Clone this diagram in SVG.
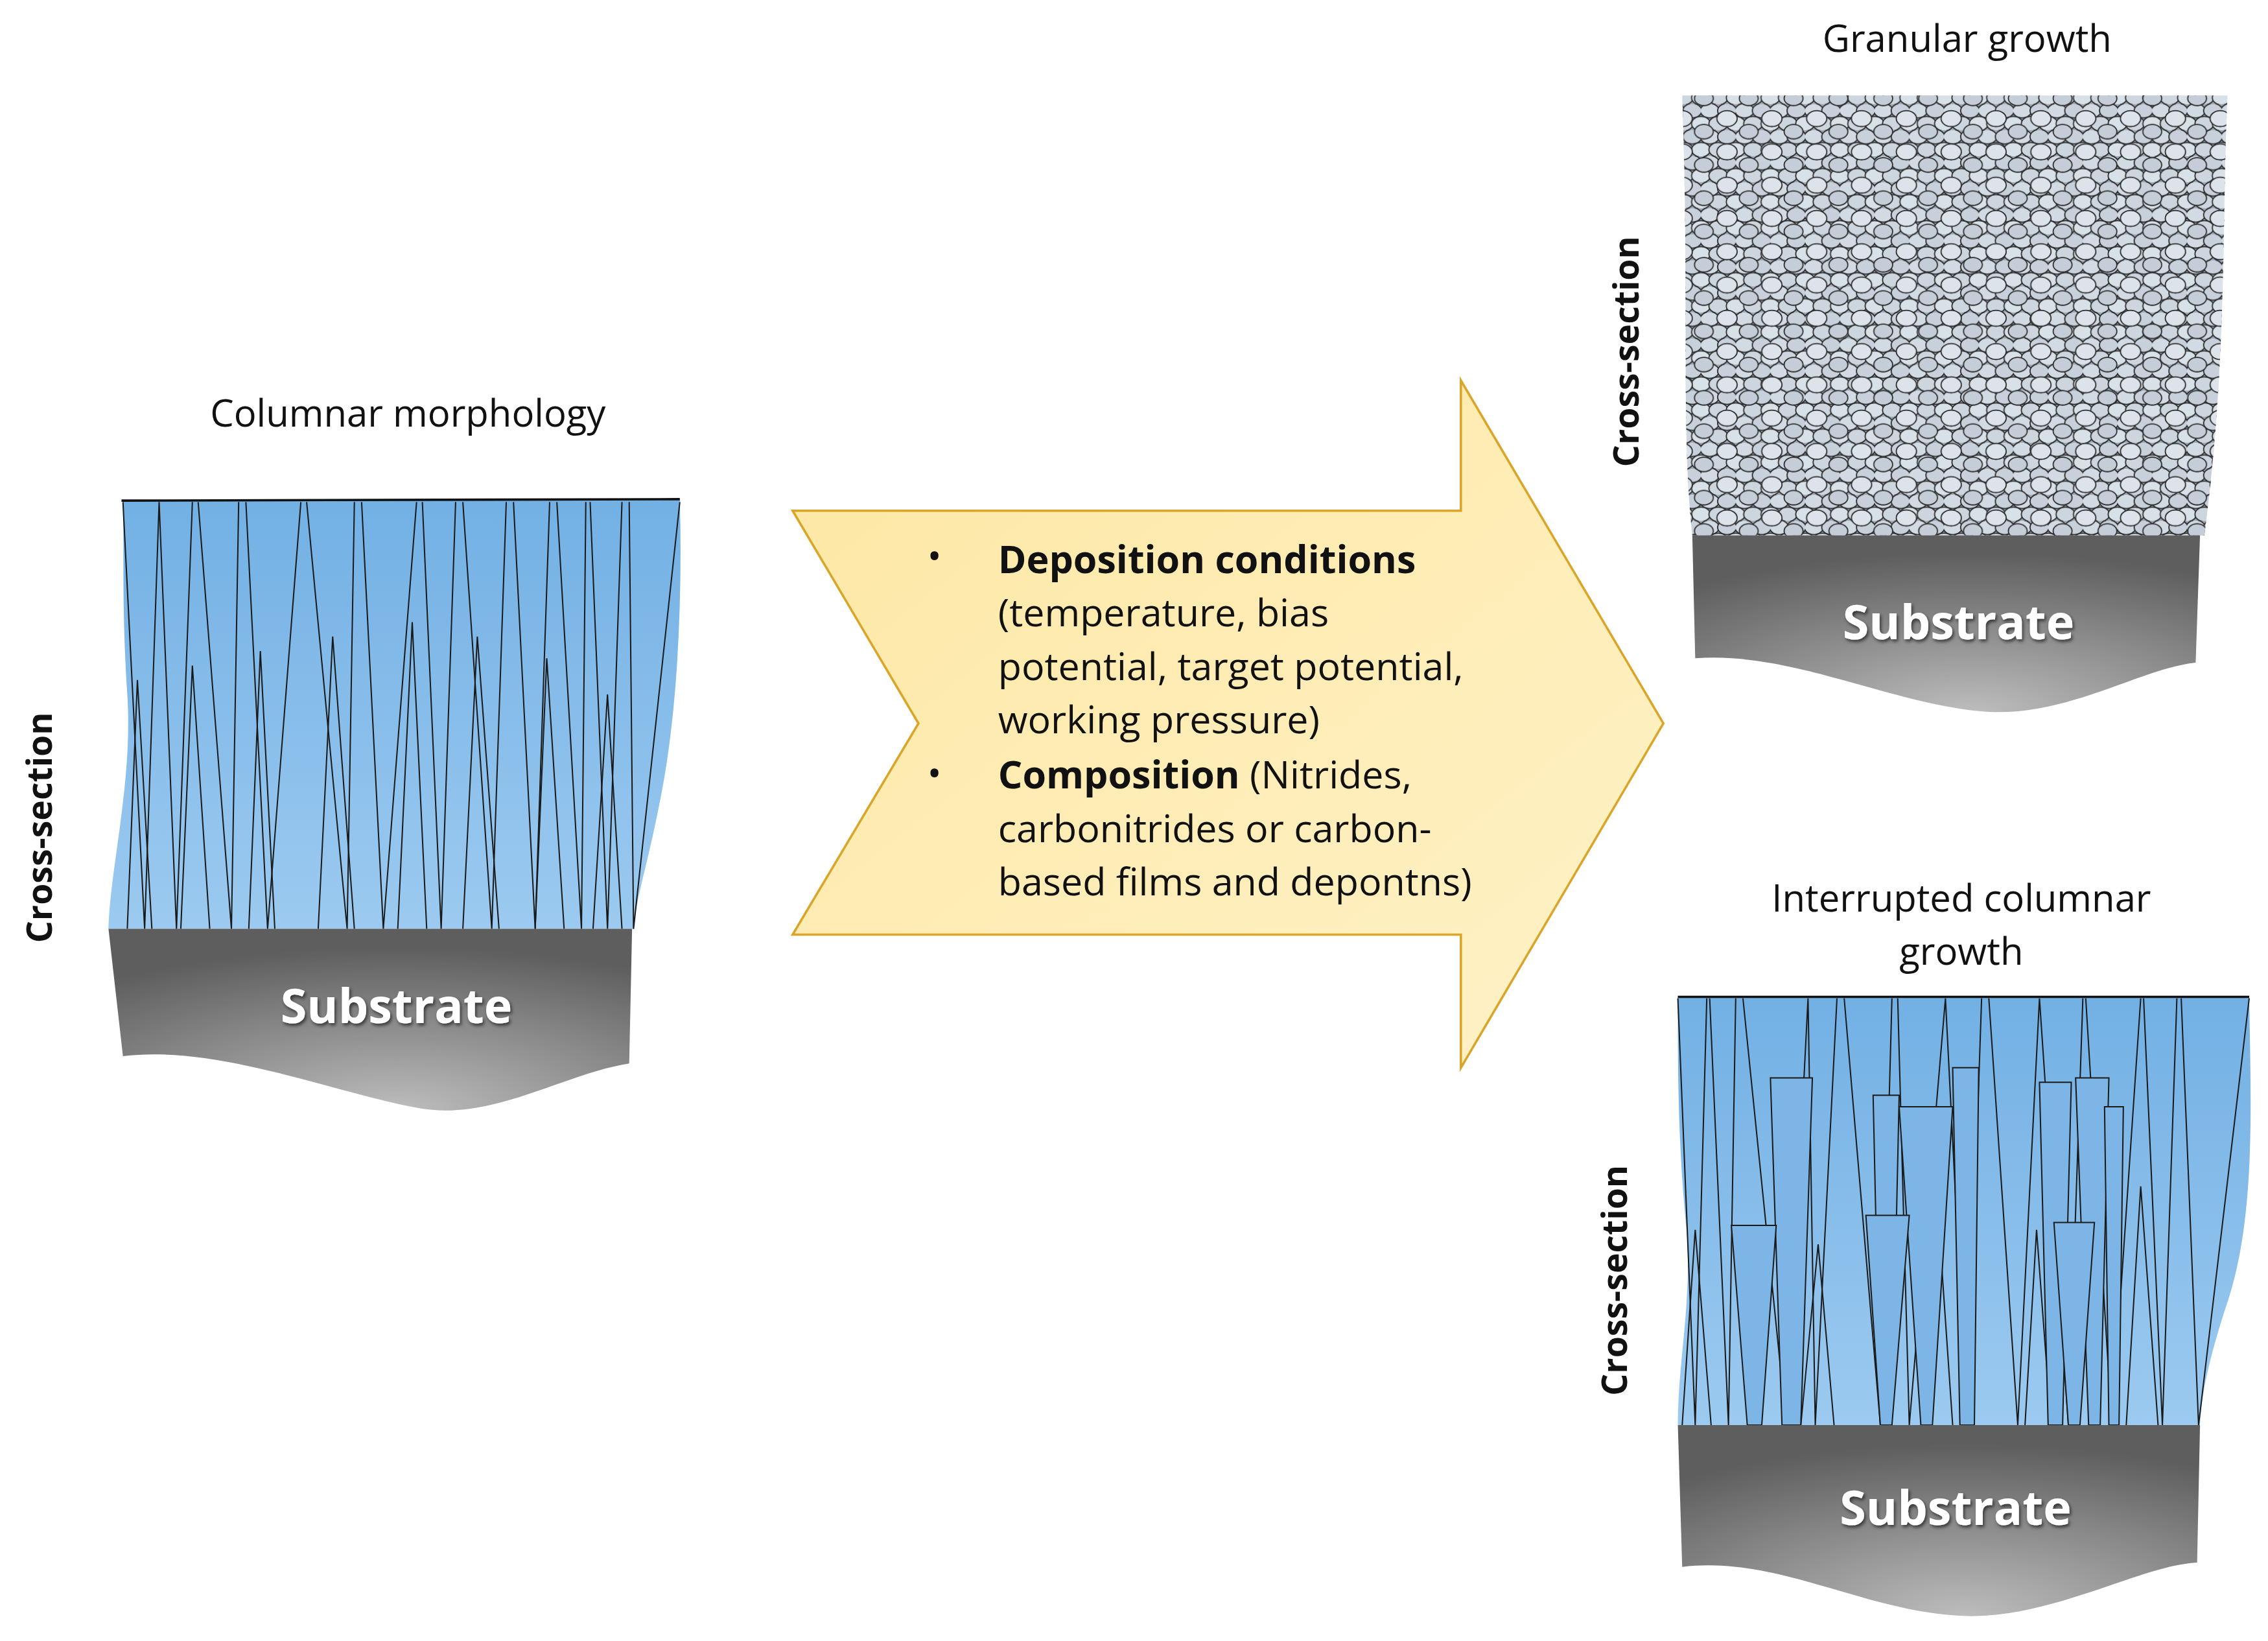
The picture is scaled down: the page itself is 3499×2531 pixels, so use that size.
<svg xmlns="http://www.w3.org/2000/svg" width="3499" height="2531" viewBox="0 0 3499 2531">
<defs>
<style>
.t{font-family:"Open Sans","Liberation Sans",sans-serif;fill:#111}
.cs{font-family:"Open Sans","Liberation Sans",sans-serif;font-weight:bold;font-size:24px;fill:#111}
.sub{font-family:"Open Sans","Liberation Sans",sans-serif;font-weight:bold;font-size:33px;fill:#fff;filter:url(#sh)}
.col{fill:none;stroke:#1a1a1a;stroke-width:0.9}
.trap{fill:#7db6e6;stroke:#1a1a1a;stroke-width:0.9}
.g{stroke:#2a2a2a;stroke-width:0.8}
</style>
<linearGradient id="blue" x1="0" y1="0" x2="0" y2="1"><stop offset="0" stop-color="#72b0e4"/><stop offset="1" stop-color="#9ccaf0"/></linearGradient>
<radialGradient id="grey" cx="0.55" cy="1" r="0.9"><stop offset="0" stop-color="#bdbdbd"/><stop offset="1" stop-color="#5e5e5e"/></radialGradient>
<linearGradient id="arr" x1="0" y1="0" x2="1" y2="1"><stop offset="0" stop-color="#fde7a3"/><stop offset="1" stop-color="#fff2c8"/></linearGradient>
<filter id="sh"><feDropShadow dx="1" dy="1.5" stdDeviation="1.2" flood-color="#000" flood-opacity="0.6"/></filter>
<pattern id="gr" width="24" height="18" patternUnits="userSpaceOnUse">
<rect width="24" height="18" fill="#9ea9b5"/>
<ellipse class="g" cx="6" cy="4.5" rx="6.5" ry="5" fill="#d2dae3"/>
<ellipse class="g" cx="18" cy="4.5" rx="6.5" ry="5" fill="#c8d1db"/>
<ellipse class="g" cx="0" cy="13.5" rx="6.5" ry="5" fill="#d8e0e8"/>
<ellipse class="g" cx="12" cy="13.5" rx="6.5" ry="5" fill="#cdd6df"/>
<ellipse class="g" cx="24" cy="13.5" rx="6.5" ry="5" fill="#d8e0e8"/>
</pattern>
<pattern id="gr2" x="7" y="5" width="31" height="23" patternUnits="userSpaceOnUse">
<ellipse class="g" cx="9" cy="8" rx="7" ry="5.5" fill="#dce3ea"/>
<ellipse class="g" cx="24" cy="17" rx="6.5" ry="5" fill="#c5ced8"/>
</pattern>
</defs>
<rect width="3499" height="2531" fill="#fff"/>
<g transform="scale(2.2315)">
<g id="columnar">
<text class="t" x="282" y="295" font-size="26" text-anchor="middle">Columnar morphology</text>
<text class="cs" transform="translate(36,572) rotate(-90)" text-anchor="middle">Cross-section</text>
<path d="M85,346 L470,345 C472,420 468,500 455,560 C447,600 440,620 438,642 L75,642 C76,600 92,540 88,480 C84,420 86,380 85,346 Z" fill="url(#blue)"/>
<path class="col" d="M85,347 L100,642 L110,347 M110,347 L122,642 L133,347 M137,347 L160,642 L165,347 M170,347 L185,642 L208,347 M212,347 L240,642 L245,347 M250,347 L265,642 L288,347 M292,347 L305,642 L315,347 M320,347 L340,642 L350,347 M355,347 L370,642 L380,347 M385,347 L402,642 L405,347 M408,347 L420,642 L430,347 M435,347 L438,642 L470,347"/>
<path class="col" d="M88,642 L95,470 L105,642 M125,642 L133,460 L145,642 M172,642 L180,450 L190,642 M220,642 L230,440 L245,642 M275,642 L285,430 L295,642 M320,642 L330,440 L345,642 M370,642 L378,455 L390,642 M410,642 L420,480 L430,642"/>
<path d="M84,346 L470,345" stroke="#111" stroke-width="1.6"/>
<path d="M75,642 L437,642 L435,735 C390,742 340,775 290,766 C230,755 150,722 85,730 Z" fill="url(#grey)"/>
<text class="sub" x="274" y="707" text-anchor="middle">Substrate</text>
</g>
<g id="arrow">
<path d="M548,353 L1010,353 L1010,263 L1150,500 L1010,738 L1010,646 L548,646 L635,500 Z" fill="url(#arr)" stroke="#d9a62a" stroke-width="1.6"/>
<g class="t" font-size="26.5">
<text x="641" y="394">•</text>
<text x="690" y="396"><tspan font-weight="bold">Deposition conditions</tspan></text>
<text x="690" y="433">(temperature, bias</text>
<text x="690" y="470">potential, target potential,</text>
<text x="690" y="507">working pressure)</text>
<text x="641" y="544">•</text>
<text x="690" y="545"><tspan font-weight="bold">Composition</tspan> (Nitrides,</text>
<text x="690" y="582">carbonitrides or carbon-</text>
<text x="690" y="619">based films and depontns)</text>
</g>
</g>
<g id="granular">
<text class="t" x="1360" y="36" font-size="26" text-anchor="middle">Granular growth</text>
<text class="cs" transform="translate(1133,243) rotate(-90)" text-anchor="middle">Cross-section</text>
<path d="M1163,66 L1540,66 C1536,150 1540,250 1524,370 L1170,370 C1162,300 1168,200 1163,66 Z" fill="url(#gr)"/>
<path d="M1163,66 L1540,66 C1536,150 1540,250 1524,370 L1170,370 C1162,300 1168,200 1163,66 Z" fill="url(#gr2)"/>
<path d="M1170,370 L1521,370 L1518,458 C1480,462 1430,495 1375,492 C1310,488 1240,450 1172,455 Z" fill="url(#grey)"/>
<text class="sub" x="1354" y="442" text-anchor="middle">Substrate</text>
</g>
<g id="interrupted">
<text class="t" x="1356" y="630" font-size="26" text-anchor="middle">Interrupted columnar</text>
<text class="t" x="1356" y="667" font-size="26" text-anchor="middle">growth</text>
<text class="cs" transform="translate(1125,885) rotate(-90)" text-anchor="middle">Cross-section</text>
<path d="M1160,689 L1555,689 C1556,760 1560,840 1540,900 C1530,930 1522,960 1521,985 L1160,985 C1160,940 1170,900 1166,850 C1160,790 1160,740 1160,689 Z" fill="url(#blue)"/>
<path class="col" d="M1160,690 L1172,985 L1180,690 M1182,690 L1195,985 L1200,690 M1205,690 L1235,985 L1250,690 M1250,690 L1255,985 L1270,690 M1275,690 L1300,985 L1308,690 M1312,690 L1320,985 L1345,690 M1345,690 L1360,985 L1370,690 M1375,690 L1395,985 L1410,690 M1410,690 L1430,985 L1440,690 M1442,690 L1460,985 L1480,690 M1482,690 L1495,985 L1505,690 M1508,690 L1520,985 L1555,690"/>
<path class="col" d="M1163,985 L1172,850 L1183,985 M1245,985 L1257,860 L1268,985 M1330,985 L1340,840 L1350,985 M1400,985 L1408,850 L1418,985 M1470,985 L1480,820 L1492,985"/>
<polygon class="trap" points="1224,745 1253,745 1245,985 1232,985"/>
<polygon class="trap" points="1295,757 1313,757 1308,985 1300,985"/>
<polygon class="trap" points="1350,738 1368,738 1365,985 1355,985"/>
<polygon class="trap" points="1313,765 1350,765 1336,985 1328,985"/>
<polygon class="trap" points="1410,748 1432,748 1426,985 1416,985"/>
<polygon class="trap" points="1435,745 1458,745 1452,985 1444,985"/>
<polygon class="trap" points="1455,765 1468,765 1465,985 1458,985"/>
<polygon class="trap" points="1197,847 1228,847 1218,985 1208,985"/>
<polygon class="trap" points="1290,840 1320,840 1308,985 1300,985"/>
<polygon class="trap" points="1420,845 1448,845 1438,985 1430,985"/>
<path d="M1160,689 L1555,689" stroke="#111" stroke-width="1.6"/>
<path d="M1160,985 L1521,985 L1519,1080 C1480,1082 1420,1118 1360,1117 C1290,1115 1230,1075 1163,1083 Z" fill="url(#grey)"/>
<text class="sub" x="1352" y="1054" text-anchor="middle">Substrate</text>
</g>
</g>
</svg>
